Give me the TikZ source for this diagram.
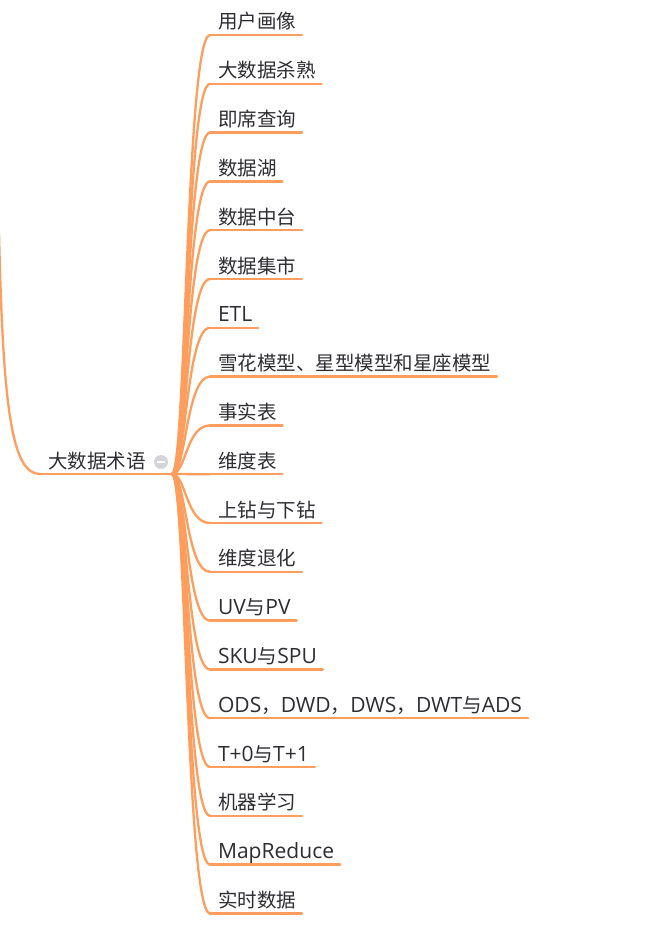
\documentclass[tikz,border=0pt]{standalone}
\usepackage{fontspec}
\setmainfont{Noto Sans CJK SC}
\newfontfamily\lf[Scale=1.08]{Open Sans}
\usepackage{xcolor}
\definecolor{branchorange}{RGB}{255,157,92}
\definecolor{textgray}{RGB}{45,45,50}
\definecolor{icongray}{RGB}{212,212,218}
\tikzset{
    branch/.style={draw=branchorange, line width=2.3pt, line cap=round},
    topic/.style={anchor=base west, inner xsep=0pt, inner ysep=0pt, outer sep=0pt,
        text=textgray, font=\fontsize{19.5}{22}\selectfont}
}

\begin{document}
\begin{tikzpicture}[x=1pt,y=-1pt]
    \useasboundingbox (0,0) rectangle (660,947);

    % root topic
    \node[topic] (root) at (48,468) {大数据术语};
    \coordinate (rootstart) at (40,474);
    \coordinate (joint) at (172,474);
    \coordinate (parent) at (-1,232);
    \draw[branch] (parent) .. controls (3,410) and (12,474) .. (rootstart);
    \draw[branch] (rootstart) -- (joint);

    % collapse icon
    \node[circle, fill=icongray, minimum size=14pt, inner sep=0pt] (fold) at (161,462) {};
    \draw[white, line width=2.2pt] ([xshift=-4pt]fold.center) -- ([xshift=4pt]fold.center);

    % subtopics
    \foreach \i/\txt in {1/用户画像, 2/大数据杀熟, 3/即席查询, 4/数据湖, 5/数据中台,
        6/数据集市, 7/{\lf ETL}, 8/雪花模型、星型模型和星座模型, 9/事实表, 10/维度表,
        11/上钻与下钻, 12/维度退化, 13/{\lf UV}与{\lf PV}, 14/{\lf SKU}与{\lf SPU},
        15/{\lf ODS}，{\lf DWD}，{\lf DWS}，{\lf DWT}与{\lf ADS},
        16/{\lf T+0}与{\lf T+1}, 17/机器学习, 18/{\lf MapReduce}, 19/实时数据} {
        \pgfmathsetmacro{\yy}{35+(\i-1)*48.8}
        \coordinate (c\i) at (210,\yy);
        \node[topic] (t\i) at (218,\yy-6) {\txt};
        \draw[branch] (joint) .. controls (186,474) and (186,\yy) .. (c\i);
        \draw[branch] (c\i) -- ([xshift=6pt]c\i -| t\i.east);
    }
\end{tikzpicture}
\end{document}
